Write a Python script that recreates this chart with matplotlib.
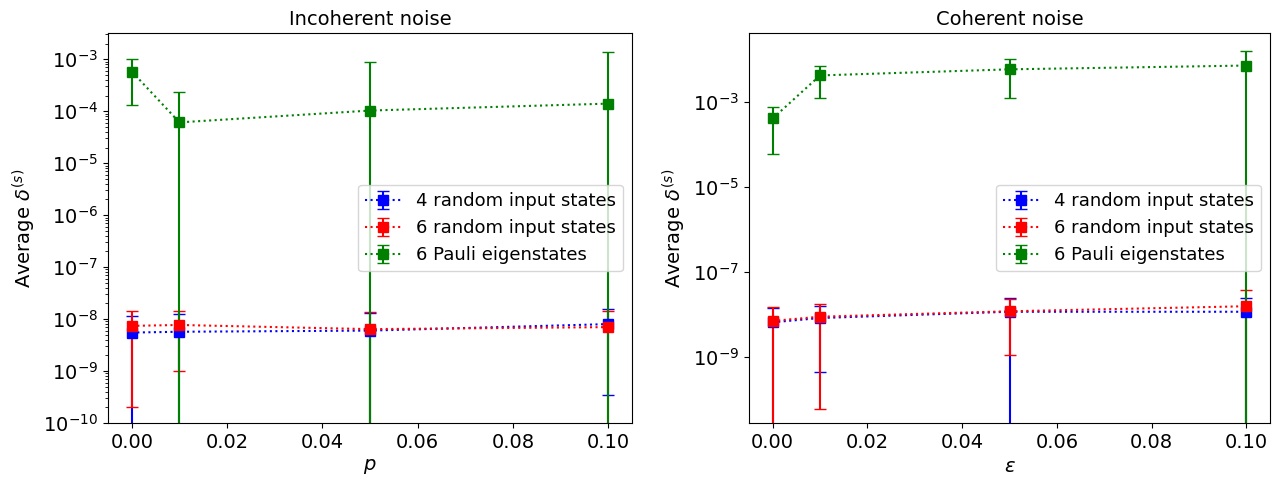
import matplotlib as mpl
mpl.use('Agg')

import numpy as np
import matplotlib.pyplot as plt
from matplotlib.ticker import NullLocator

# x values (noise strength)
p_vals = [0.0, 0.01, 0.05, 0.1]
eps_vals = [0.0, 0.01, 0.05, 0.1]

labels = ['4 random input states', '6 random input states', '6 Pauli eigenstates']
colors = ['b', 'r', 'g']

# Incoherent noise: mean and std of delta^(s)
inc_mean = {
    '4rand': [5.5e-9, 5.7e-9, 6.0e-9, 8.0e-9],
    '6rand': [7.4e-9, 7.7e-9, 6.4e-9, 7.0e-9],
    'pauli': [5.8e-4, 6.1e-5, 1.03e-4, 1.4e-4],
}
inc_err = {
    '4rand': [6.0e-9, 6.6e-9, 7.0e-9, 7.65e-9],
    '6rand': [7.2e-9, 6.7e-9, 7.1e-9, 7.6e-9],
    'pauli': [4.5e-4, 1.7e-4, 8.0e-4, 1.25e-3],
}

# Coherent noise
coh_mean = {
    '4rand': [6.5e-9, 8.2e-9, 1.15e-8, 1.15e-8],
    '6rand': [7.0e-9, 8.8e-9, 1.18e-8, 1.55e-8],
    'pauli': [4.0e-4, 4.1e-3, 5.7e-3, 7.0e-3],
}
coh_err = {
    '4rand': [7.5e-9, 7.75e-9, 1.3e-8, 1.25e-8],
    '6rand': [7.5e-9, 8.74e-9, 1.07e-8, 2.15e-8],
    'pauli': [3.4e-4, 2.9e-3, 4.5e-3, 8.4e-3],
}

keys = ['4rand', '6rand', 'pauli']

plt.rcParams['font.size'] = 14

fig, axs = plt.subplots(1, 2, figsize=(12.81, 4.79), dpi=100)

def panel(ax, x, mean, err, title, xlabel, ylim):
    for k, lab, c in zip(keys, labels, colors):
        ax.errorbar(x, mean[k], yerr=err[k], fmt='s:', color=c, label=lab,
                    capsize=4, markersize=7)
    ax.set_yscale('log')
    ax.set_ylim(ylim)
    ax.set_title(title, fontsize=14)
    ax.set_xlabel(xlabel)
    ax.set_ylabel(r'Average $\delta^{(s)}$')
    ax.legend(loc='center right', fontsize=13)

panel(axs[0], p_vals, inc_mean, inc_err, 'Incoherent noise', '$p$', (1e-10, 3.2e-3))
panel(axs[1], eps_vals, coh_mean, coh_err, 'Coherent noise', r'$\epsilon$', (2.8e-11, 4.07e-2))

# coherent panel only labels every other decade, no minor ticks
axs[1].set_yticks([1e-9, 1e-7, 1e-5, 1e-3])
axs[1].yaxis.set_minor_locator(NullLocator())

axs[0].set_position([108 / 1281, 56 / 479, 524 / 1281, 390 / 479])
axs[1].set_position([749 / 1281, 56 / 479, 521 / 1281, 390 / 479])

fig.savefig('out.png', dpi=100)
plt.close()
